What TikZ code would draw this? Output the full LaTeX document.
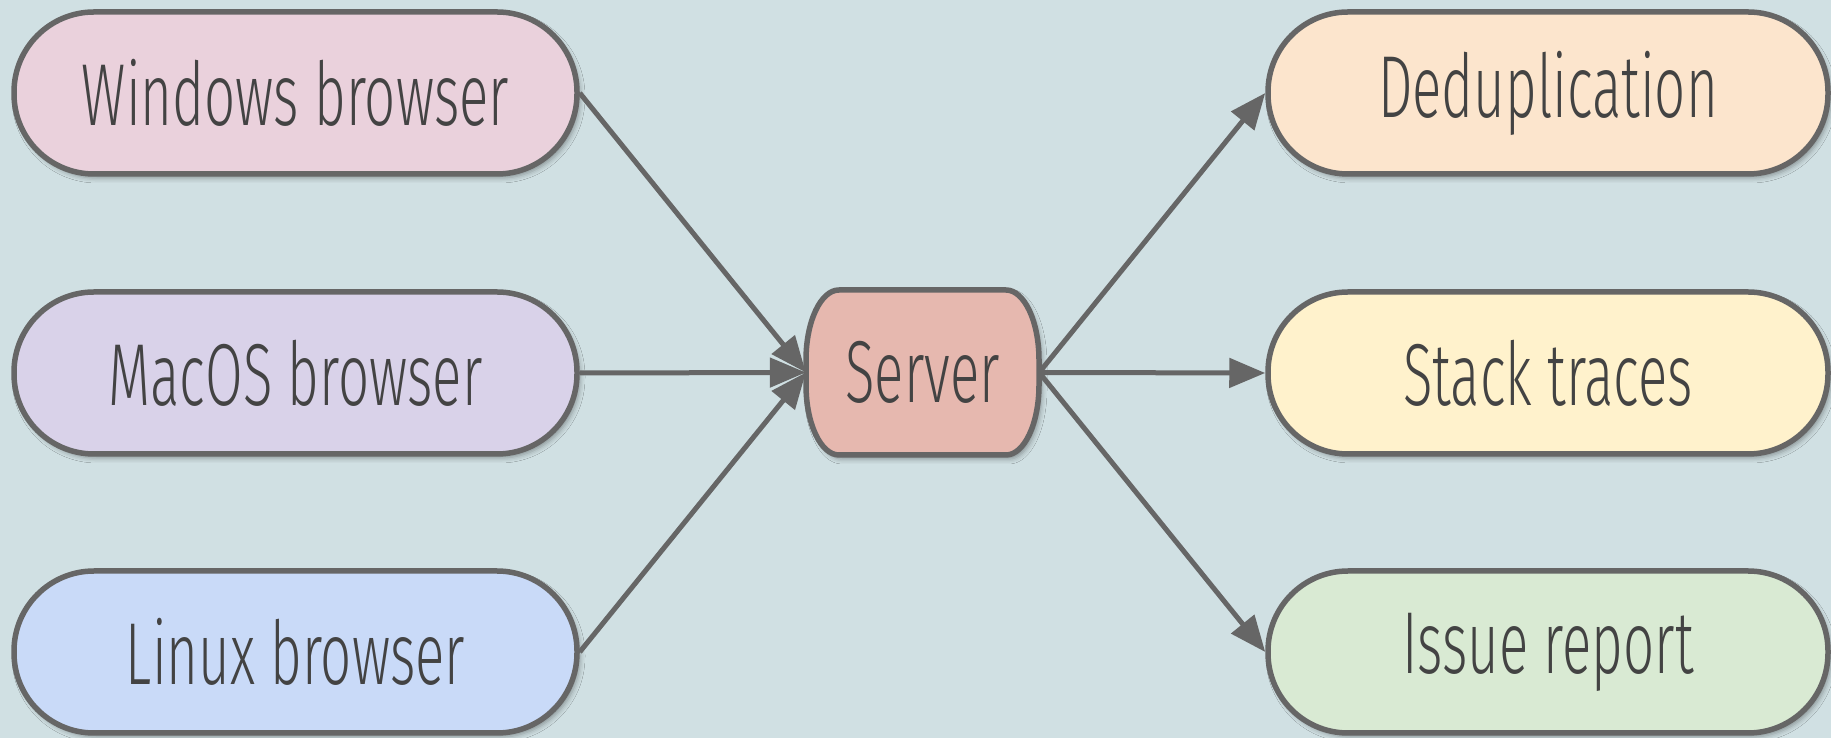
\documentclass[tikz,border=0pt]{standalone}
\usepackage{fontspec}
\setmainfont{Fira Sans Light}[FakeStretch=0.62]
\usetikzlibrary{arrows.meta,shadows.blur}
\definecolor{bg}{HTML}{D0E0E3}
\definecolor{cwin}{HTML}{EAD1DC}
\definecolor{cmac}{HTML}{D9D2E9}
\definecolor{clin}{HTML}{C9DAF8}
\definecolor{csrv}{HTML}{E6B8AF}
\definecolor{cded}{HTML}{FCE5CD}
\definecolor{cstk}{HTML}{FFF2CC}
\definecolor{ciss}{HTML}{D9EAD3}
\definecolor{edge}{HTML}{666666}
\definecolor{txt}{HTML}{434343}
\tikzset{
  shad/.style={blur shadow={shadow xshift=3pt, shadow yshift=-4pt, shadow opacity=35, shadow blur radius=5pt}},
  pill/.style={draw=edge, line width=5.5pt, rounded corners=80pt,
    minimum height=162pt, inner sep=0pt, text=txt,
    font=\fontsize{88}{94}\selectfont, shad},
  leftpill/.style={pill, minimum width=563pt},
  rightpill/.style={pill, minimum width=560pt},
  conn/.style={draw=edge, line width=5pt, -{Triangle[length=36pt,width=29pt]}},
}
\begin{document}
\begin{tikzpicture}[x=1pt,y=1pt]
\useasboundingbox (0,0) rectangle (1831,738);
\fill[bg] (0,0) rectangle (1831,738);
\node[leftpill, fill=cwin] (win) at (295.5,645) {Windows browser};
\node[leftpill, fill=cmac] (mac) at (295.5,365) {MacOS browser};
\node[leftpill, fill=clin] (lin) at (295.5,86) {Linux browser};
\node[rightpill, fill=cded] (ded) at (1548,645) {Deduplication};
\node[rightpill, fill=cstk] (stk) at (1548,365) {Stack traces};
\node[rightpill, fill=ciss] (iss) at (1548,86) {Issue report};
\path[draw=edge, line width=5.5pt, fill=csrv, shad]
  (839,448) -- (1006,448) arc[start angle=90, end angle=0, x radius=33, y radius=70]
  -- (1039,353) arc[start angle=0, end angle=-90, x radius=33, y radius=70]
  -- (839,283) arc[start angle=270, end angle=180, x radius=33, y radius=70]
  -- (806,378) arc[start angle=180, end angle=90, x radius=33, y radius=70] -- cycle;
\node[minimum width=233pt, minimum height=165pt, inner sep=0pt, text=txt,
  font=\fontsize{88}{94}\selectfont] (srv) at (922.5,365.5) {Server};
\draw[conn] (win.east) -- (srv.west);
\draw[conn] (mac.east) -- (srv.west);
\draw[conn] (lin.east) -- (srv.west);
\draw[conn] (srv.east) -- (ded.west);
\draw[conn] (srv.east) -- (stk.west);
\draw[conn] (srv.east) -- (iss.west);
\end{tikzpicture}
\end{document}
